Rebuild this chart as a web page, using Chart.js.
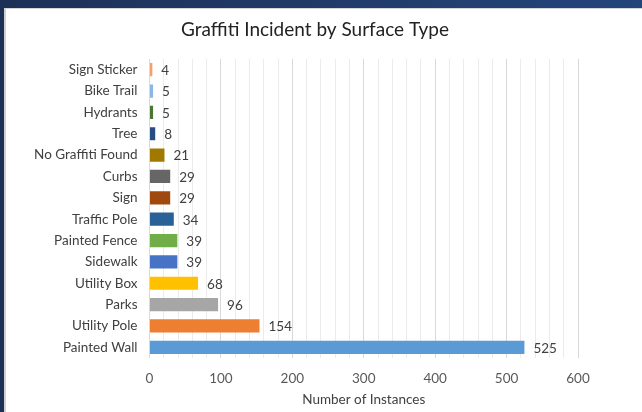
<!DOCTYPE html>
<html>
<head>
<meta charset="utf-8">
<script src="https://cdn.jsdelivr.net/npm/chart.js@4.4.0/dist/chart.umd.min.js"></script>
<style>
  html, body { margin:0; padding:0; }
  body { width:642px; height:412px; overflow:hidden; background:linear-gradient(90deg,#1d3157,#24457a); position:relative; }
  #frame { position:absolute; left:4px; top:8px; width:636px; height:403px; background:#fff; border-top:1px solid #d6d6d6; border-left:2px solid #d0d0d0; }
  #c { position:absolute; left:0; top:0; }
</style>
</head>
<body>
<div id="frame"><canvas id="c" width="636" height="403" style="width:636px;height:403px"></canvas></div>
<script>
const categories = ["Sign Sticker","Bike Trail","Hydrants","Tree","No Graffiti Found","Curbs","Sign","Traffic Pole","Painted Fence","Sidewalk","Utility Box","Parks","Utility Pole","Painted Wall"];
const instances = [4,5,5,8,21,29,29,34,39,39,68,96,154,525];
const barColors = ["#F4A06A","#8DB6E2","#4A7535","#2A4C85","#A07A00","#666666","#A0490F","#2A6196","#72AE48","#4673C5","#FFC000","#A6A6A6","#EE7E32","#5B9BD5"];
const xTickLabels = [0,100,200,300,400,500,600];
const chartTitle = "Graffiti Incident by Surface Type";

const FONT = "Lato, 'Liberation Sans', sans-serif";

const dataLabels = {
  id: 'dataLabels',
  afterDatasetsDraw(chart) {
    const ctx = chart.ctx;
    const meta = chart.getDatasetMeta(0);
    ctx.save();
    ctx.font = "13.5px " + FONT;
    ctx.fillStyle = "#404040";
    ctx.textAlign = "left";
    ctx.textBaseline = "middle";
    meta.data.forEach((bar, i) => {
      ctx.fillText(String(instances[i]), bar.x + 9, bar.y + 1);
    });
    ctx.restore();
  }
};

const titlePlugin = {
  id: 'centerTitle',
  afterDraw(chart) {
    const ctx = chart.ctx;
    ctx.save();
    ctx.font = "19px " + FONT;
    ctx.fillStyle = "#222222";
    ctx.textAlign = "center";
    ctx.textBaseline = "middle";
    ctx.fillText(chartTitle, 309, 21);
    ctx.restore();
  }
};

new Chart(document.getElementById('c'), {
  type: 'bar',
  data: {
    labels: categories,
    datasets: [{
      data: instances,
      backgroundColor: barColors,
      borderWidth: 0,
      barPercentage: 0.62,
      categoryPercentage: 1.0
    }]
  },
  options: {
    indexAxis: 'y',
    responsive: false,
    maintainAspectRatio: false,
    animation: false,
    devicePixelRatio: 1,
    layout: { padding: { left: 0, right: 64, top: 50, bottom: 0 } },
    plugins: {
      legend: { display: false },
      tooltip: { enabled: false },
      title: { display: false }
    },
    scales: {
      x: {
        min: 0, max: 600,
        afterFit(s) { s.height = 54; },
        ticks: {
          stepSize: 20,
          autoSkip: false,
          maxRotation: 0,
          padding: 13,
          color: "#595959",
          font: { family: FONT, size: 13.5 },
          callback(v) { return xTickLabels.includes(v) ? String(v) : ''; }
        },
        grid: {
          drawTicks: false,
          color(ctx) { return (ctx.tick && ctx.tick.value % 100 === 0) ? '#d9d9d9' : '#ebebeb'; },
          lineWidth: 1
        },
        border: { display: false },
        title: {
          display: true,
          text: "Number of Instances",
          color: "#404040",
          font: { family: FONT, size: 13.5 },
          padding: { top: 0, bottom: 4 }
        }
      },
      y: {
        afterFit(s) { s.width = 143.5; },
        ticks: {
          padding: 4,
          color: "#404040",
          font: { family: FONT, size: 13.5 },
          autoSkip: false
        },
        grid: { display: false },
        border: { display: false }
      }
    }
  },
  plugins: [dataLabels, titlePlugin]
});
</script>
</body>
</html>
